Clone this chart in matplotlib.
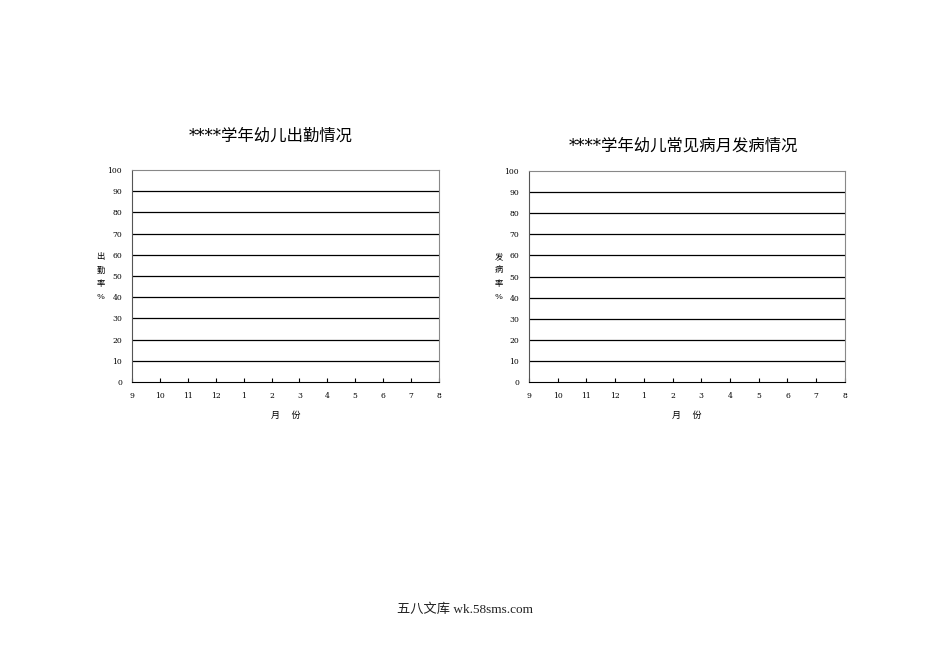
import matplotlib
matplotlib.use("Agg")
import matplotlib.pyplot as plt

plt.rcParams["font.family"] = ["DejaVu Serif", "Noto Sans CJK SC", "DejaVu Sans"]

# chart data (the template charts are empty)
months = ["9", "10", "11", "12", "1", "2", "3", "4", "5", "6", "7", "8"]
y_ticks = [0, 10, 20, 30, 40, 50, 60, 70, 80, 90, 100]
titles = ["****学年幼儿出勤情况", "****学年幼儿常见病月发病情况"]
y_labels = [["出", "勤", "率", "%"], ["发", "病", "率", "%"]]
x_label = "月    份"
footer = "五八文库 wk.58sms.com"

fig = plt.figure(figsize=(9.5, 6.72), dpi=100)

# [left, bottom, width, height] in figure fraction
boxes = [[0.1389, 0.4315, 0.3232, 0.3155],
         [0.5568, 0.4315, 0.3326, 0.3140]]
title_pos = [(0.285, 0.797), (0.719, 0.782)]
ylab_x = [0.106, 0.525]

for i in range(2):
    ax = fig.add_axes(boxes[i])
    ax.set_xlim(0, len(months) - 1)
    ax.set_ylim(y_ticks[0], y_ticks[-1])
    ax.set_xticks(range(len(months)))
    ax.set_xticklabels(months, fontsize=5.5)
    ax.set_yticks(y_ticks)
    ax.set_yticklabels([str(v) for v in y_ticks], fontsize=5.5)
    ax.tick_params(axis="x", direction="in", length=3, width=0.8, pad=7, color="black")
    ax.tick_params(axis="y", length=0, pad=7)
    for v in y_ticks[1:-1]:
        ax.axhline(v, color="black", lw=0.9)
    ax.spines["left"].set_color("#555555")
    ax.spines["bottom"].set_color("black")
    ax.spines["right"].set_color("#888888")
    ax.spines["top"].set_color("#888888")
    for s in ax.spines.values():
        s.set_linewidth(0.8)
    ax.set_xlabel(x_label, fontsize=6.5, labelpad=8)
    fig.text(title_pos[i][0], title_pos[i][1], titles[i], ha="center", va="center",
             fontsize=11.8)
    # vertical stacked label, one character per line
    for k, ch in enumerate(y_labels[i]):
        fig.text(ylab_x[i], 0.617 - k * 0.0195, ch, ha="center", va="center", fontsize=6)

fig.text(0.489, 0.092, footer, ha="center", va="center", fontsize=9.5, color="#222222",
         family=["Liberation Serif", "Noto Sans CJK SC"])

fig.savefig("out.png", dpi=100, facecolor="white")
